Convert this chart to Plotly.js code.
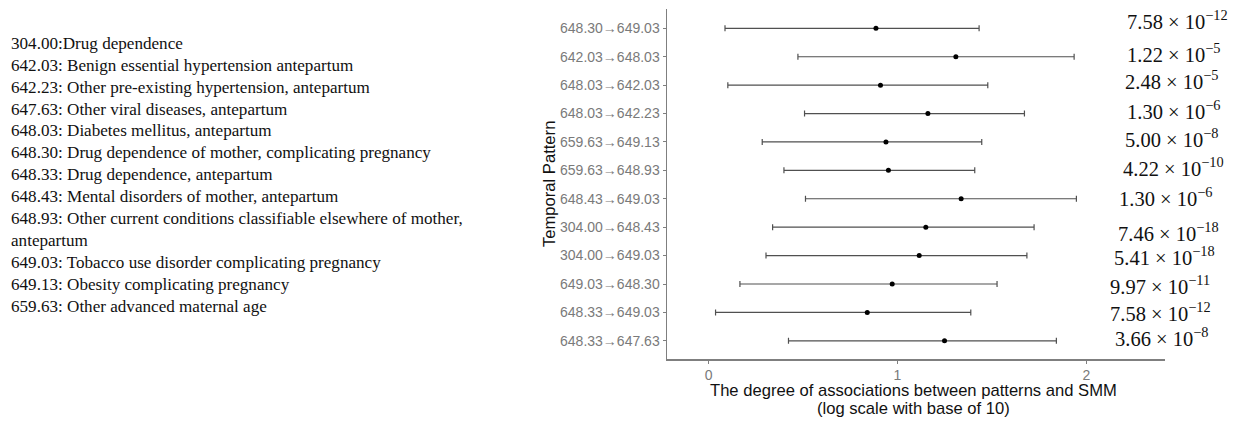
<!DOCTYPE html>
<html>
<head>
<meta charset="utf-8">
<script src="https://cdn.plot.ly/plotly-3.0.1.min.js"></script>
<style>
  html, body { margin: 0; padding: 0; background: #ffffff; }
  #chart { width: 1256px; height: 424px; }
</style>
</head>
<body>
<div id="chart"></div>
<script>
// ---- data ----
const patterns = ['648.30→649.03', '642.03→648.03', '648.03→642.03', '648.03→642.23',
                  '659.63→649.13', '659.63→648.93', '648.43→649.03', '304.00→648.43',
                  '304.00→649.03', '649.03→648.30', '648.33→649.03', '648.33→647.63'];
const estimate = [0.886, 1.309, 0.910, 1.161, 0.939, 0.952, 1.337, 1.150, 1.115, 0.972, 0.840, 1.249];
const lower    = [0.087, 0.473, 0.102, 0.508, 0.284, 0.399, 0.513, 0.339, 0.304, 0.166, 0.037, 0.423];
const upper    = [1.432, 1.935, 1.478, 1.672, 1.446, 1.409, 1.947, 1.723, 1.685, 1.527, 1.388, 1.841];
const pMantissa = ['7.58', '1.22', '2.48', '1.30', '5.00', '4.22', '1.30', '7.46', '5.41', '9.97', '7.58', '3.66'];
const pExponent = [-12, -5, -5, -6, -8, -10, -6, -18, -18, -11, -12, -8];
const legendLines = [
  '304.00:Drug dependence',
  '642.03: Benign essential hypertension antepartum',
  '642.23: Other pre-existing hypertension, antepartum',
  '647.63: Other viral diseases, antepartum',
  '648.03: Diabetes mellitus, antepartum',
  '648.30: Drug dependence of mother, complicating pregnancy',
  '648.33: Drug dependence, antepartum',
  '648.43: Mental disorders of mother, antepartum',
  '648.93: Other current conditions classifiable elsewhere of mother,',
  'antepartum',
  '649.03: Tobacco use disorder complicating pregnancy',
  '649.13: Obesity complicating pregnancy',
  '659.63: Other advanced maternal age'
];
const xTickVals = [0, 1, 2];
const xTitleLines = ['The degree of associations between patterns and SMM', '(log scale with base of 10)'];
const yTitle = 'Temporal Pattern';

// ---- layout helpers (pixel geometry of the reference) ----
const W = 1256, H = 424;
const plotL = 667, plotR = 1165, plotT = 9, plotB = 359;
const pw = plotR - plotL, ph = plotB - plotT;
const px2x = p => (p - plotL) / pw;
const py2y = p => (plotB - p) / ph;

const trace = {
  type: 'scatter',
  mode: 'markers',
  x: estimate,
  y: patterns,
  marker: { color: '#000000', size: 5 },
  error_x: {
    type: 'data',
    symmetric: false,
    array: upper.map((u, i) => u - estimate[i]),
    arrayminus: lower.map((l, i) => estimate[i] - l),
    color: '#505050',
    thickness: 1.2,
    width: 3
  },
  hoverinfo: 'x+y',
  showlegend: false
};

const annotations = [];
const sans = 'Liberation Sans, Arial, sans-serif';
const serif = 'Liberation Serif, Times New Roman, serif';
// left-hand code legend
const legTop = 43.3, legPitch = 21.9;
legendLines.forEach((t, i) => {
  annotations.push({
    xref: 'paper', yref: 'paper',
    x: px2x(9), y: py2y(legTop + legPitch * i),
    xanchor: 'left', yanchor: 'middle',
    text: t, showarrow: false,
    font: { family: serif, size: 17.1, color: '#111111' }
  });
});
// p-value labels on the right
const pLeft = [1125, 1125, 1122.7, 1125, 1123, 1120.7, 1117, 1116, 1112, 1107.7, 1108, 1113];
const pNudge = [8, 4, 5, 3.5, 4, 3, 2, -5, 0, -1, 0, 4];
patterns.forEach((p, i) => {
  annotations.push({
    xref: 'paper', yref: 'y',
    x: px2x(pLeft[i]), y: p, yshift: pNudge[i],
    xanchor: 'left', yanchor: 'middle',
    text: pMantissa[i] + ' × 10<sup>−' + Math.abs(pExponent[i]) + '</sup>',
    showarrow: false,
    font: { family: serif, size: 20.5, color: '#111111' }
  });
});
// x-axis title (two lines)
const xTitleY = [390, 408];
xTitleLines.forEach((t, i) => {
  annotations.push({
    xref: 'paper', yref: 'paper',
    x: px2x(913), y: py2y(xTitleY[i]),
    xanchor: 'center', yanchor: 'middle',
    text: t, showarrow: false,
    font: { family: sans, size: 16.6, color: '#111111' }
  });
});
// y-axis title
annotations.push({
  xref: 'paper', yref: 'paper',
  x: px2x(549), y: 0.5,
  xanchor: 'center', yanchor: 'middle',
  textangle: -90,
  text: yTitle, showarrow: false,
  font: { family: sans, size: 16.6, color: '#111111' }
});

const layout = {
  width: W, height: H,
  margin: { l: plotL, r: W - plotR, t: plotT, b: H - plotB, pad: 0 },
  paper_bgcolor: '#ffffff',
  plot_bgcolor: '#ffffff',
  showlegend: false,
  xaxis: {
    range: [-0.22, 2.416],
    tickvals: xTickVals,
    ticktext: xTickVals.map(String),
    showgrid: false, zeroline: false,
    showline: true, linecolor: '#7f7f7f', linewidth: 1.5,
    ticks: 'outside', ticklen: 3, tickcolor: '#7f7f7f', tickwidth: 1,
    ticklabelstandoff: 1.5,
    tickfont: { family: sans, size: 14, color: '#7a7a7a' }
  },
  yaxis: {
    type: 'category',
    categoryorder: 'array', categoryarray: patterns,
    range: [11.64, -0.68],
    showgrid: false, zeroline: false,
    showline: true, linecolor: '#7f7f7f', linewidth: 1.5,
    ticks: 'outside', ticklen: 3, tickcolor: '#7f7f7f', tickwidth: 1,
    tickfont: { family: sans, size: 14, color: '#7a7a7a' }
  },
  annotations: annotations
};

Plotly.newPlot('chart', [trace], layout, { displayModeBar: false, staticPlot: true });
</script>
</body>
</html>
